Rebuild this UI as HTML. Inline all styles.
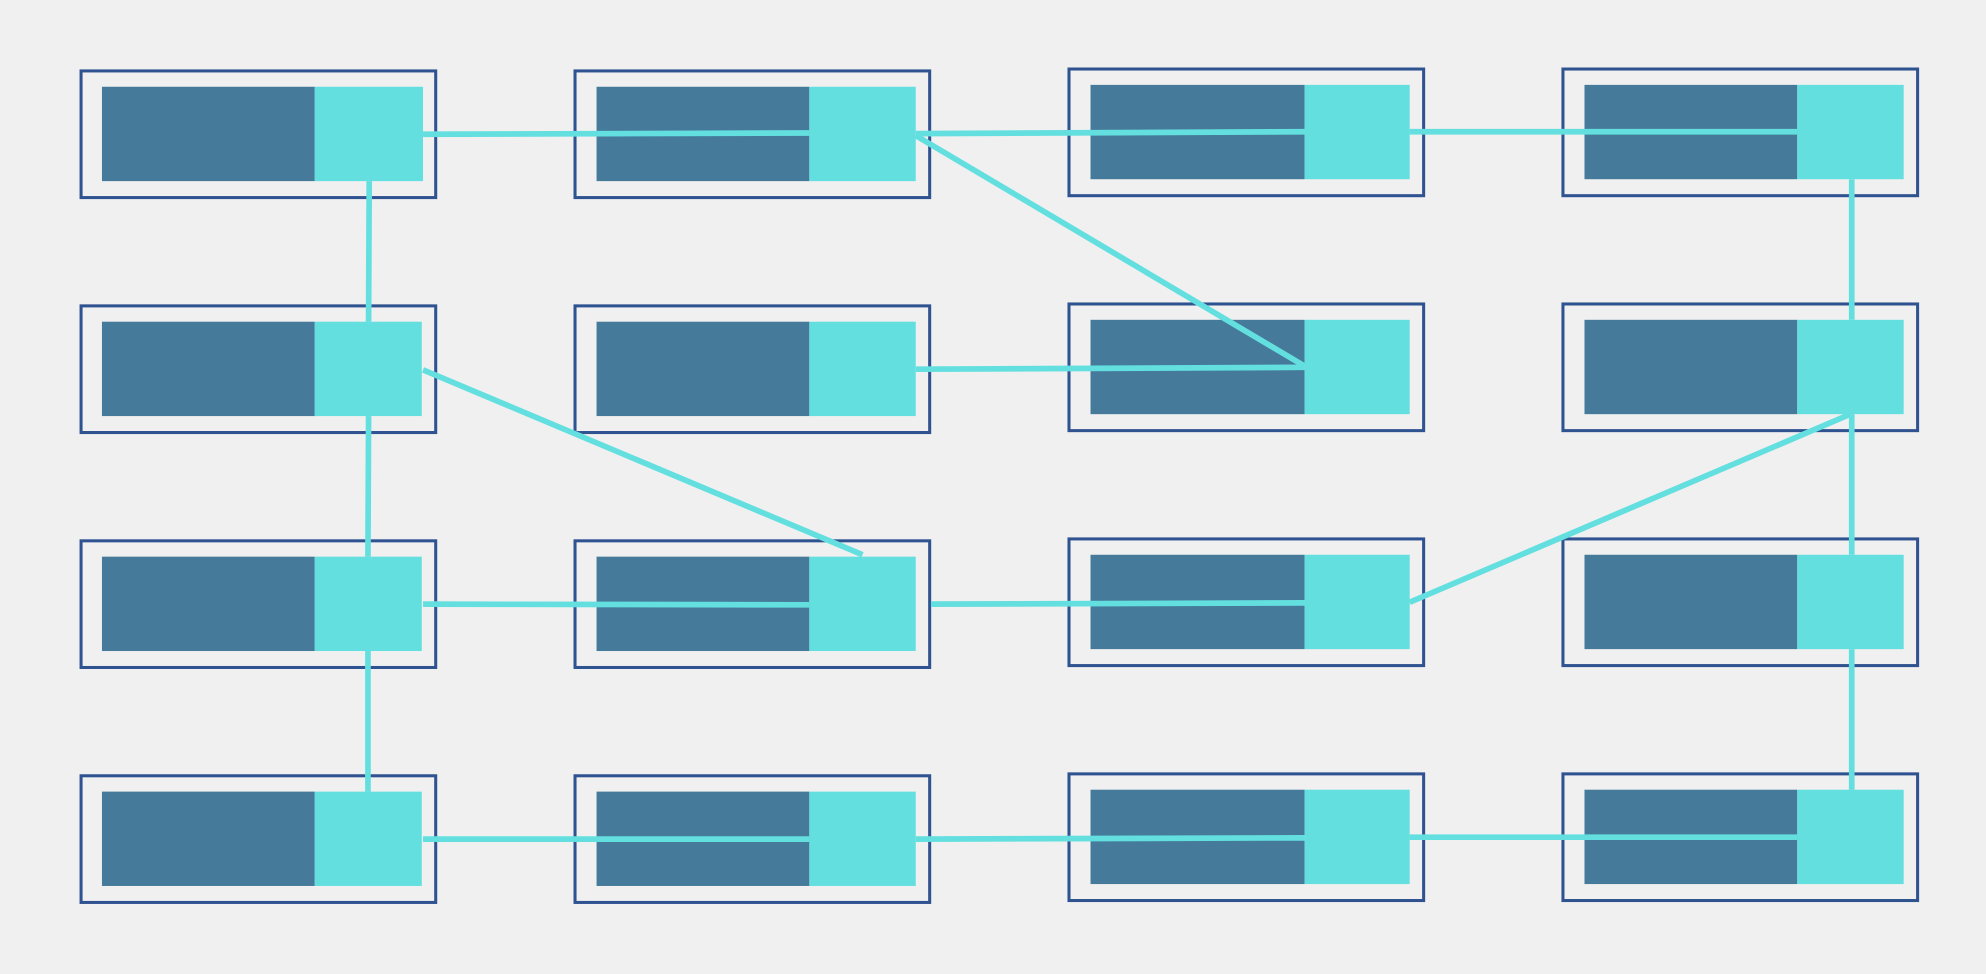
<!DOCTYPE html>
<html><head><style>html,body{margin:0;padding:0;background:#f0f0f0;}svg{display:block}</style></head>
<body>
<svg width="1986" height="974" viewBox="0 0 1568 769" xmlns="http://www.w3.org/2000/svg">
<rect width="1568" height="769" fill="#f0f0f0"/>
<g fill="none" stroke="#2f5290" stroke-width="2.4">
<rect x="64" y="56" width="280" height="100"/><rect x="454" y="56" width="280" height="100"/><rect x="844" y="54.5" width="280" height="100"/><rect x="1234" y="54.5" width="280" height="100"/>
<rect x="64" y="241.5" width="280" height="100"/><rect x="454" y="241.5" width="280" height="100"/><rect x="844" y="240" width="280" height="100"/><rect x="1234" y="240" width="280" height="100"/>
<rect x="64" y="427" width="280" height="100"/><rect x="454" y="427" width="280" height="100"/><rect x="844" y="425.5" width="280" height="100"/><rect x="1234" y="425.5" width="280" height="100"/>
<rect x="64" y="612.5" width="280" height="100"/><rect x="454" y="612.5" width="280" height="100"/><rect x="844" y="611" width="280" height="100"/><rect x="1234" y="611" width="280" height="100"/>
</g>
<g id="cells">
<g fill="#457a9a">
<rect x="80.5" y="68.5" width="168" height="74.5"/><rect x="471" y="68.5" width="168" height="74.5"/><rect x="861" y="67" width="169" height="74.5"/><rect x="1251" y="67" width="168" height="74.5"/>
<rect x="80.5" y="254" width="168" height="74.5"/><rect x="471" y="254" width="168" height="74.5"/><rect x="861" y="252.5" width="169" height="74.5"/><rect x="1251" y="252.5" width="168" height="74.5"/>
<rect x="80.5" y="439.5" width="168" height="74.5"/><rect x="471" y="439.5" width="168" height="74.5"/><rect x="861" y="438" width="169" height="74.5"/><rect x="1251" y="438" width="168" height="74.5"/>
<rect x="80.5" y="625" width="168" height="74.5"/><rect x="471" y="625" width="168" height="74.5"/><rect x="861" y="623.5" width="169" height="74.5"/><rect x="1251" y="623.5" width="168" height="74.5"/>
</g>
<g fill="#64dfdf">
<rect x="248.5" y="68.5" width="85.5" height="74.5"/><rect x="639" y="68.5" width="84" height="74.5"/><rect x="1030" y="67" width="83" height="74.5"/><rect x="1419" y="67" width="84" height="74.5"/>
<rect x="248.5" y="254" width="84.5" height="74.5"/><rect x="639" y="254" width="84" height="74.5"/><rect x="1030" y="252.5" width="83" height="74.5"/><rect x="1419" y="252.5" width="84" height="74.5"/>
<rect x="248.5" y="439.5" width="84.5" height="74.5"/><rect x="639" y="439.5" width="84" height="74.5"/><rect x="1030" y="438" width="83" height="74.5"/><rect x="1419" y="438" width="84" height="74.5"/>
<rect x="248.5" y="625" width="84.5" height="74.5"/><rect x="639" y="625" width="84" height="74.5"/><rect x="1030" y="623.5" width="83" height="74.5"/><rect x="1419" y="623.5" width="84" height="74.5"/>
</g>
</g>
<g stroke="#64dfdf" stroke-width="4.5" fill="none">
<line x1="334" y1="106" x2="639" y2="105"/>
<line x1="723" y1="105.5" x2="1030" y2="104"/>
<line x1="1113" y1="104" x2="1419" y2="104"/>
<line x1="723" y1="107" x2="1030" y2="289"/>
<line x1="723" y1="291.5" x2="1030" y2="290"/>
<line x1="334" y1="292" x2="681" y2="438"/>
<line x1="334" y1="477" x2="639" y2="477.5"/>
<line x1="735" y1="477" x2="1030" y2="476"/>
<line x1="1113" y1="475.5" x2="1461" y2="327"/>
<line x1="334" y1="662.5" x2="639" y2="662.5"/>
<line x1="723" y1="662.5" x2="1030" y2="661.5"/>
<line x1="1113" y1="661" x2="1419" y2="661"/>
<line x1="291.5" y1="143" x2="291" y2="254"/>
<line x1="291" y1="328.5" x2="290.5" y2="439.5"/>
<line x1="290.5" y1="514" x2="290.5" y2="625"/>
<line x1="1462" y1="141.5" x2="1462" y2="252.5"/>
<line x1="1462" y1="327" x2="1462" y2="438"/>
<line x1="1462" y1="512.5" x2="1462" y2="623.5"/>
</g>
</svg>
</body></html>
